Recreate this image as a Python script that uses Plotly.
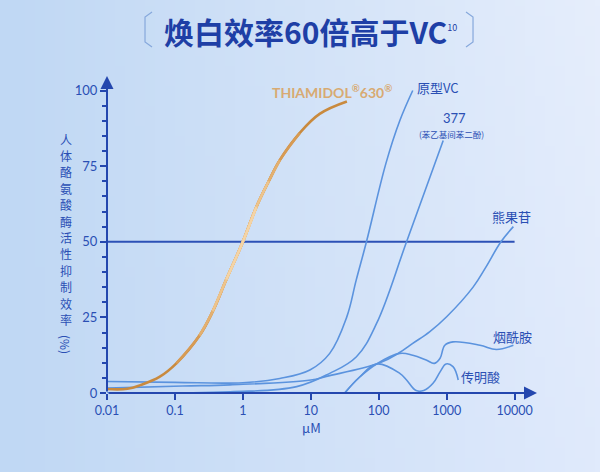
import base64
import struct
import zlib

import plotly.graph_objects as go

# ---- data (x in μM, y in % inhibition) ----
thiamidol_x = [0.01, 0.02, 0.031, 0.06, 0.105, 0.23, 0.36, 0.57, 1, 1.58, 2.4, 3.5, 6.9, 13.5, 34]
thiamidol_y = [1.3, 1.4, 2.6, 5.4, 9.8, 19, 27, 37.5, 50, 61.5, 70, 77, 86, 92.3, 96.4]

vc_x = [0.01, 0.1, 1, 3.5, 9.7, 19, 33.7, 46.6, 66, 128, 204, 317]
vc_y = [3.8, 3.5, 3.4, 4.8, 7.6, 13.1, 25, 37.3, 50, 76, 90, 100]

r377_x = [0.01, 0.65, 6.2, 19, 47, 93, 257, 890]
r377_y = [0, 0.4, 2.1, 6.5, 12, 23, 50, 83.5]

arbutin_x = [0.01, 0.13, 0.65, 10, 17, 100, 200, 317, 560, 1000, 2450, 3800, 6300, 9600]
arbutin_y = [1.6, 2.3, 2.7, 4.3, 5.5, 9.8, 13.3, 16.4, 20.2, 25.2, 35, 41.7, 50, 55]

niacinamide_x = [31.6, 52, 93, 204, 317, 500, 660, 800, 940, 1240, 3100, 5400, 9600]
niacinamide_y = [0, 5.2, 9.6, 13.1, 12.5, 10.9, 9.8, 11.5, 15.8, 16.9, 15.8, 14.4, 15.8]

tranexamic_x = [31.6, 52, 93, 204, 257, 355, 460, 630, 800, 980, 1240, 1480]
tranexamic_y = [0, 5.2, 9.6, 6.5, 4.3, 0.8, 0.8, 3.2, 7, 9.6, 8.7, 4.3]

ref_x = [0.01, 10000]
ref_y = [50, 50]

x_ticks = [0.01, 0.1, 1, 10, 100, 1000, 10000]
x_labels = ["0.01", "0.1", "1", "10", "100", "1000", "10000"]
y_ticks = [0, 25, 50, 75, 100]
y_title_chars = list("人体酪氨酸酶活性抑制效率")
y_title_unit = "(%)"

BLUE_LINE = "#5B93DE"
AXIS = "#2447AE"
TEXT = "#2A4FB4"

W, H = 600, 472
L, R, T, B = 107, 63, 76, 79


def paper(px, py):
    return (px - L) / (W - L - R), (H - B - py) / (H - T - B)


def gradient_png(w, h):
    rows = b""
    for j in range(h):
        rows += b"\x00"
        for i in range(w):
            fx, fy = i / (w - 1), j / (h - 1)
            r = int(192 + 32 * fx + 6 * fx * (1 - fy))
            g = int(216 + 18 * fx + 4 * fx * (1 - fy))
            b = int(244 + 8 * fx)
            rows += bytes([min(r, 255), min(g, 255), min(b, 255)])

    def chunk(tag, data):
        c = struct.pack(">I", len(data)) + tag + data
        return c + struct.pack(">I", zlib.crc32(tag + data) & 0xFFFFFFFF)

    png = b"\x89PNG\r\n\x1a\n"
    png += chunk(b"IHDR", struct.pack(">IIBBBBB", w, h, 8, 2, 0, 0, 0))
    png += chunk(b"IDAT", zlib.compress(rows))
    png += chunk(b"IEND", b"")
    return "data:image/png;base64," + base64.b64encode(png).decode()


fig = go.Figure()

# 50% reference line
fig.add_trace(go.Scatter(x=ref_x, y=ref_y, mode="lines",
                         line=dict(color="#2C51B6", width=2), hoverinfo="skip"))

for xs, ys in [(arbutin_x, arbutin_y), (vc_x, vc_y), (r377_x, r377_y),
               (niacinamide_x, niacinamide_y), (tranexamic_x, tranexamic_y)]:
    fig.add_trace(go.Scatter(x=xs, y=ys, mode="lines",
                             line=dict(color=BLUE_LINE, width=1.6, shape="spline", smoothing=1.1)))

# thiamidol: full dark-gold curve, then paler layers towards its middle
fig.add_trace(go.Scatter(x=thiamidol_x, y=thiamidol_y, mode="lines",
                         line=dict(color="#C98A3E", width=2.6, shape="spline", smoothing=1.1)))
for i0, i1, col in [(4, 12, "#D79B54"), (5, 11, "#E3B070"), (6, 10, "#EDC48C"), (7, 9, "#F4D4A6")]:
    fig.add_trace(go.Scatter(x=thiamidol_x[i0:i1 + 1], y=thiamidol_y[i0:i1 + 1], mode="lines",
                             line=dict(color=col, width=2.6, shape="spline", smoothing=1.1)))

annotations = [
    # axis arrows
    dict(x=4.33, y=0, ax=-2, ay=0, xref="x", yref="y", axref="x", ayref="y",
         showarrow=True, arrowhead=2, arrowsize=1.3, arrowwidth=2, arrowcolor=AXIS, text=""),
    dict(x=-2, y=104.8, ax=-2, ay=0, xref="x", yref="y", axref="x", ayref="y",
         showarrow=True, arrowhead=2, arrowsize=1.3, arrowwidth=2, arrowcolor=AXIS, text=""),
    # series labels
    dict(x=1.31, y=99.7, text="<b>THIAMIDOL<sup>®</sup>630<sup>®</sup></b>",
         font=dict(color="#D8AA72", size=14, family="Lato")),
    dict(x=2.87, y=101, text="原型VC", font=dict(color=TEXT, size=13)),
    dict(x=3.12, y=91, text="377", font=dict(color=TEXT, size=13, family="Lato")),
    dict(x=3.07, y=85.6, text="(苯乙基间苯二酚)", font=dict(color=TEXT, size=8.5)),
    dict(x=3.96, y=58.4, text="熊果苷", font=dict(color=TEXT, size=13)),
    dict(x=3.97, y=18.8, text="烟酰胺", font=dict(color=TEXT, size=13)),
    dict(x=3.50, y=5.6, text="传明酸", font=dict(color=TEXT, size=13)),
]
for a in annotations:
    a.setdefault("xref", "x")
    a.setdefault("yref", "y")
    a.setdefault("showarrow", False)
    a.setdefault("yanchor", "middle")

page_texts = [
    (311, 427, "μM", dict(color=TEXT, size=13), 0),
    (310, 31, "<b>焕白效率60倍高于VC</b><sup><span style='font-size:9px'>10</span></sup>",
     dict(color="#1E3FA6", size=30), 0),
    (66, 344, y_title_unit, dict(color=TEXT, size=12), 90),
]
# y axis title, one character per row
for i, ch in enumerate(y_title_chars):
    page_texts.append((66, 139 + 16.4 * i, ch, dict(color=TEXT, size=12), 0))

for px, py, txt, fnt, ang in page_texts:
    x, y = paper(px, py)
    annotations.append(dict(x=x, y=y, xref="paper", yref="paper", text=txt, font=fnt,
                            textangle=ang, borderpad=0, showarrow=False,
                            xanchor="center", yanchor="middle", align="center"))

shapes = []
for pts in ([(152, 12), (145, 17), (145, 42), (152, 47)],
            [(466, 12), (473, 17), (473, 42), (466, 47)]):
    path = "M " + " L ".join("%.4f,%.4f" % paper(px, py) for px, py in pts)
    shapes.append(dict(type="path", path=path, xref="paper", yref="paper",
                       line=dict(color="#86A8DC", width=1.2)))

fig.update_layout(
    width=W, height=H,
    margin=dict(l=L, r=R, t=T, b=B),
    paper_bgcolor="#CCE1F7",
    plot_bgcolor="rgba(0,0,0,0)",
    showlegend=False,
    font=dict(family="Noto Sans CJK SC, Noto Sans", color=TEXT),
    annotations=annotations,
    shapes=shapes,
    images=[dict(source=gradient_png(60, 47), xref="paper", yref="paper",
                 x=paper(0, 0)[0], y=paper(0, 0)[1], sizex=W / (W - L - R), sizey=H / (H - T - B),
                 xanchor="left", yanchor="top", sizing="stretch", layer="below")],
    xaxis=dict(type="log", range=[-2, 4.33], showgrid=False, zeroline=False, showline=False,
               tickvals=x_ticks, ticktext=x_labels, ticks="outside", ticklen=6, tickwidth=2,
               tickcolor=AXIS, tickfont=dict(size=12.5, color=TEXT, family="Lato")),
    yaxis=dict(range=[0, 104.8], showgrid=False, zeroline=False, showline=False,
               tickvals=y_ticks, ticks="outside", ticklen=6, tickwidth=2, tickcolor=AXIS,
               tickfont=dict(size=13, color=TEXT, family="Lato"),
               minor=dict(dtick=5, ticks="outside", ticklen=4, tickwidth=1.5, tickcolor=AXIS)),
)

fig.write_html("out.html", config={"displayModeBar": False},
               post_script="document.body.style.margin='0';")
